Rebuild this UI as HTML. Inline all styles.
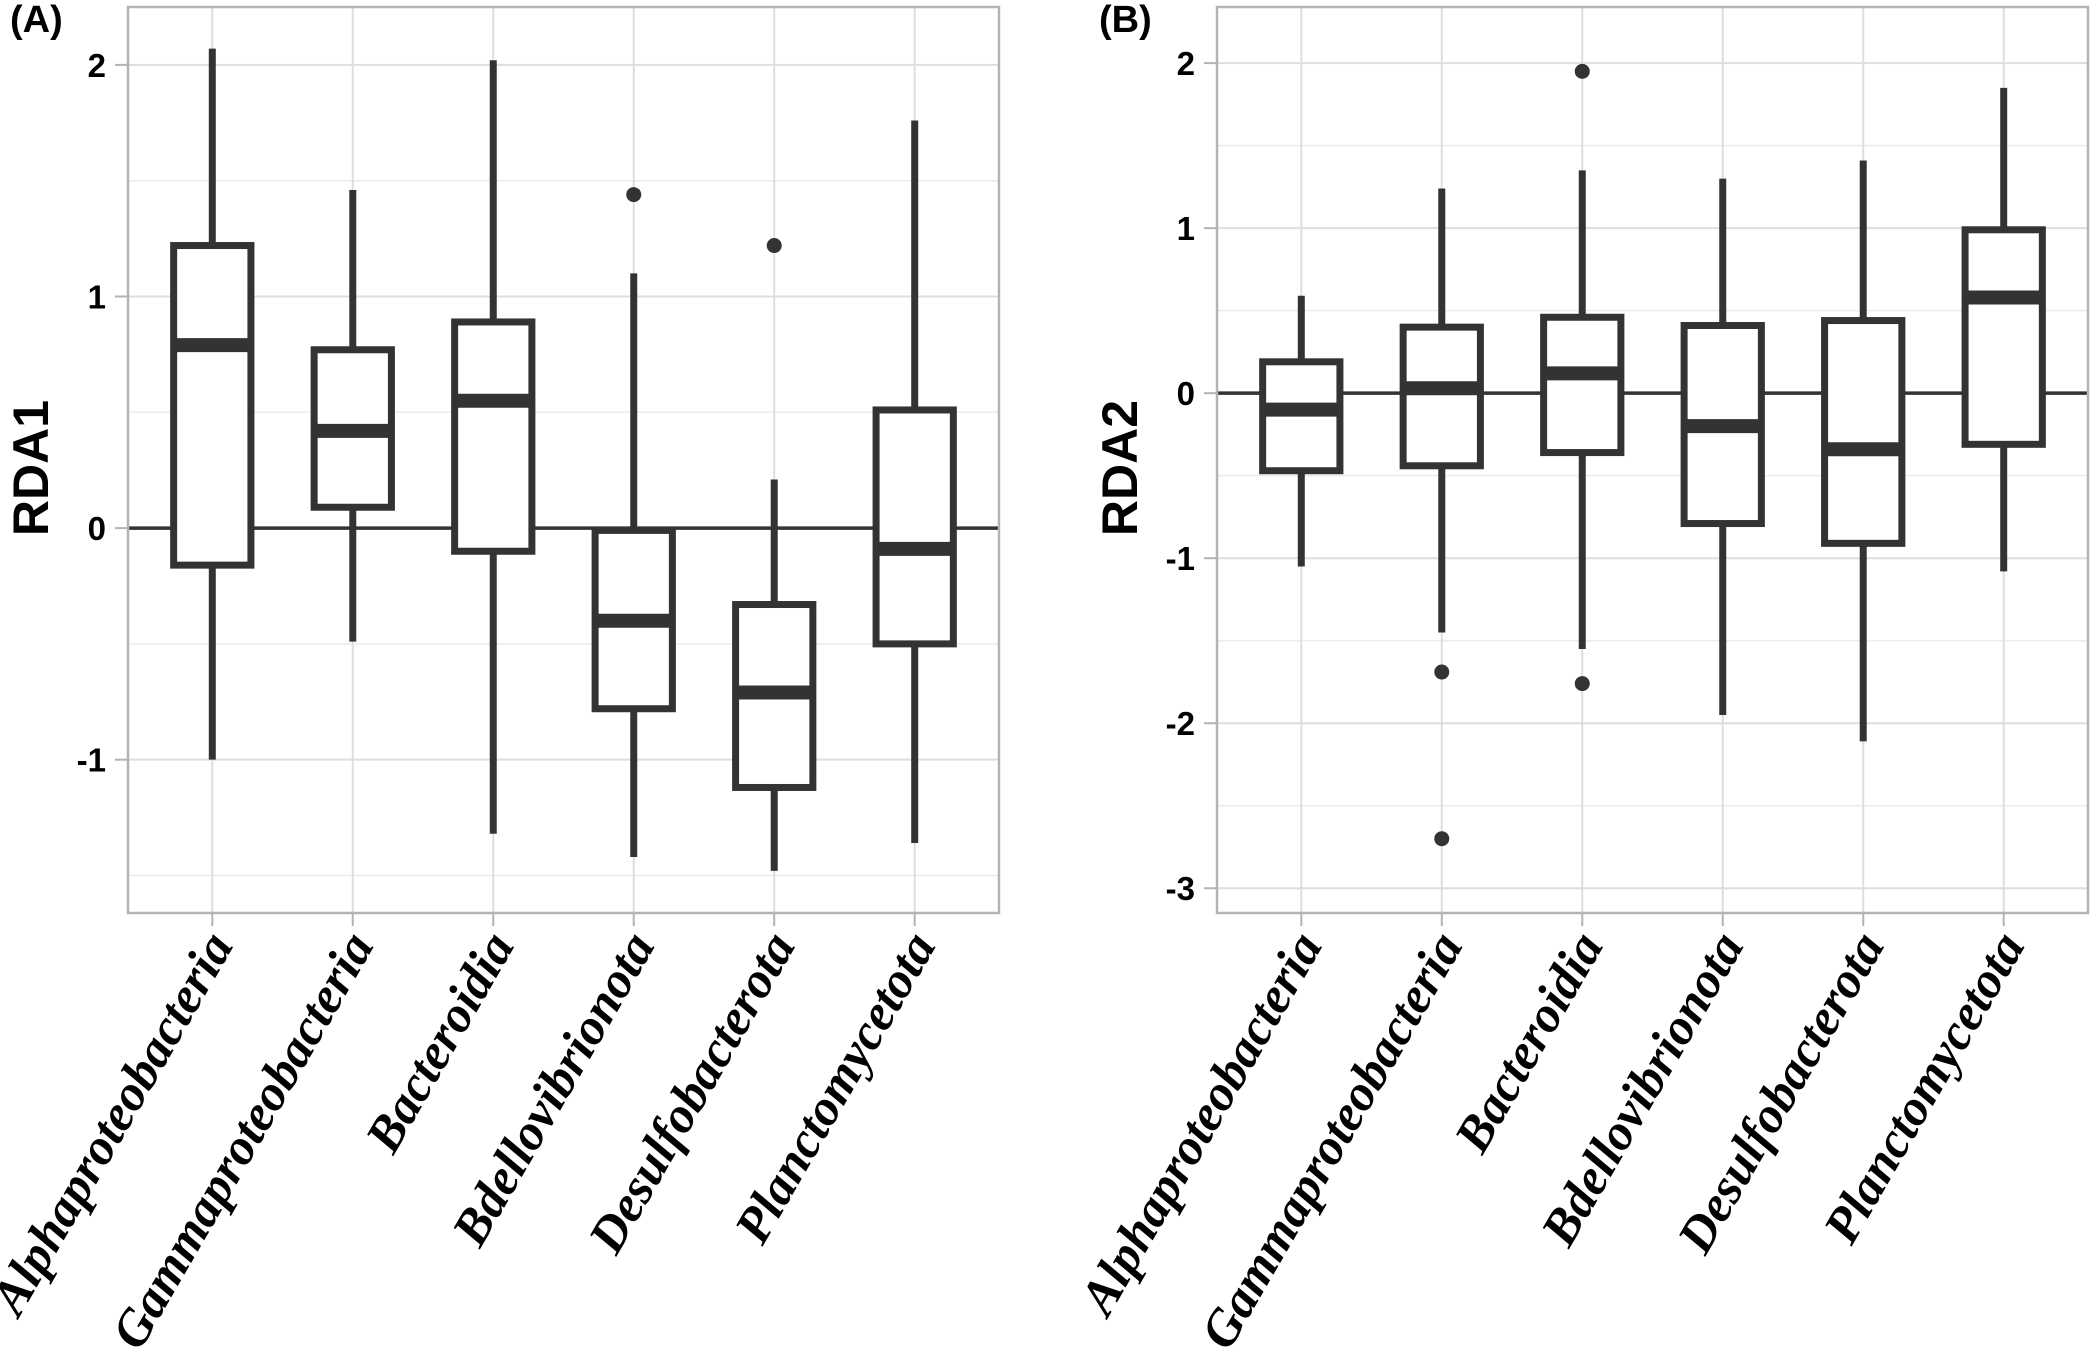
<!DOCTYPE html>
<html><head><meta charset="utf-8"><style>
html,body{margin:0;padding:0;background:#fff;}
svg{display:block;}
</style></head><body>
<svg id="chart" width="2090" height="1366" viewBox="0 0 2090 1366" xmlns="http://www.w3.org/2000/svg"></svg>
<script>
const categories = ["Alphaproteobacteria","Gammaproteobacteria","Bacteroidia","Bdellovibrionota","Desulfobacterota","Planctomycetota"];
// Panel A (RDA1)
const rda1Low = [-1.0, -0.49, -1.32, -1.42, -1.48, -1.36];
const rda1Q1 = [-0.16, 0.09, -0.10, -0.78, -1.12, -0.50];
const rda1Median = [0.79, 0.42, 0.55, -0.40, -0.71, -0.09];
const rda1Q3 = [1.22, 0.77, 0.89, -0.01, -0.33, 0.51];
const rda1High = [2.07, 1.46, 2.02, 1.10, 0.21, 1.76];
const rda1Outliers = [[], [], [], [1.44], [1.22], []];
const rda1Ticks = [2, 1, 0, -1];
const rda1Minor = [1.5, 0.5, -0.5, -1.5];
// Panel B (RDA2)
const rda2Low = [-1.05, -1.45, -1.55, -1.95, -2.11, -1.08];
const rda2Q1 = [-0.47, -0.44, -0.36, -0.79, -0.91, -0.31];
const rda2Median = [-0.10, 0.03, 0.12, -0.20, -0.34, 0.58];
const rda2Q3 = [0.19, 0.40, 0.46, 0.41, 0.44, 0.99];
const rda2High = [0.59, 1.24, 1.35, 1.30, 1.41, 1.85];
const rda2Outliers = [[], [-1.69, -2.70], [1.95, -1.76], [], [], []];
const rda2Ticks = [2, 1, 0, -1, -2, -3];
const rda2Minor = [1.5, 0.5, -0.5, -1.5, -2.5];

const NS = "http://www.w3.org/2000/svg";
const svg = document.getElementById("chart");
const DARK = "#333333";
function mk(tag, attrs, parent){
  const e = document.createElementNS(NS, tag);
  for (const k in attrs) e.setAttribute(k, attrs[k]);
  (parent||svg).appendChild(e);
  return e;
}

function panel(opt){
  const {left,right,top,bottom,yMin,yMax,low,q1,med,q3,high,outs,ticks,minor,title,tag,key} = opt;
  const g = mk("g", {});
  
  
  const n = categories.length;
  const step = (right-left)/(n+0.2);
  const xs = i => left + step*(0.6+i);
  const ys = v => top + (yMax - v)/(yMax - yMin)*(bottom-top);
  minor.forEach(v=>{
    const l = mk("line",{x1:left,x2:right,y1:ys(v),y2:ys(v),stroke:"#ebebeb","stroke-width":1.5},g);
    
    
  });
  ticks.forEach(v=>{
    const l = mk("line",{x1:left,x2:right,y1:ys(v),y2:ys(v),stroke:"#dedede","stroke-width":2},g);
    
    
    const t = mk("line",{x1:left-13,x2:left,y1:ys(v),y2:ys(v),stroke:"#b3b3b3","stroke-width":2},g);
    
    
    const tx = mk("text",{x:left-22,y:ys(v)+12,"text-anchor":"end","font-family":"Liberation Sans, sans-serif","font-weight":"bold","font-size":33,fill:"#000"},g);
    tx.textContent = String(v);
    
    
  });
  categories.forEach((c,i)=>{
    const l = mk("line",{x1:xs(i),x2:xs(i),y1:top,y2:bottom,stroke:"#dedede","stroke-width":2},g);
    
    
    const t = mk("line",{x1:xs(i),x2:xs(i),y1:bottom,y2:bottom+13,stroke:"#b3b3b3","stroke-width":2},g);
    
    
    const lx = xs(i)+22, ly = bottom+32;
    const tx = mk("text",{x:lx,y:ly,"text-anchor":"end","font-family":"Liberation Serif, serif","font-weight":"bold","font-style":"italic","font-size":51,fill:"#000",transform:`rotate(-60 ${lx} ${ly})`},g);
    tx.textContent = c;
    
    
  });
  const z = mk("line",{x1:left,x2:right,y1:ys(0),y2:ys(0),stroke:DARK,"stroke-width":3.5},g);
  
  
  const hw = step*0.275;
  categories.forEach((c,i)=>{
    const bg = mk("g",{},g);
    
    
    const w1 = mk("line",{x1:xs(i),x2:xs(i),y1:ys(high[i]),y2:ys(q3[i]),stroke:DARK,"stroke-width":7},bg);
    
    
    const w2 = mk("line",{x1:xs(i),x2:xs(i),y1:ys(q1[i]),y2:ys(low[i]),stroke:DARK,"stroke-width":7},bg);
    
    
    const r = mk("rect",{x:xs(i)-hw,y:ys(q3[i]),width:2*hw,height:ys(q1[i])-ys(q3[i]),fill:"#fff",stroke:DARK,"stroke-width":7},bg);
    
    
    const m = mk("line",{x1:xs(i)-hw,x2:xs(i)+hw,y1:ys(med[i]),y2:ys(med[i]),stroke:DARK,"stroke-width":14},bg);
    
    
    outs[i].forEach(v=>{
      const p = mk("circle",{cx:xs(i),cy:ys(v),r:7.5,fill:DARK},bg);
      
      
    });
  });
  const b = mk("rect",{x:left,y:top,width:right-left,height:bottom-top,fill:"none",stroke:"#b3b3b3","stroke-width":2.5},g);
  
  
  const ty = (top+bottom)/2;
  const tt = mk("text",{x:0,y:0,"text-anchor":"middle","font-family":"Liberation Sans, sans-serif","font-weight":"bold","font-size":50,fill:"#000",transform:`translate(${left-80} ${ty+8}) rotate(-90)`},g);
  tt.textContent = title;
  
  
  const pl = mk("text",{x:left-118,y:32,"font-family":"Liberation Sans, sans-serif","font-weight":"bold","font-size":38,fill:"#000"},g);
  pl.textContent = tag;
  
  
}

panel({left:128,right:999,top:7,bottom:913,yMin:-1.662,yMax:2.25,low:rda1Low,q1:rda1Q1,med:rda1Median,q3:rda1Q3,high:rda1High,outs:rda1Outliers,ticks:rda1Ticks,minor:rda1Minor,title:"RDA1",tag:"(A)",key:"rda1"});
panel({left:1217,right:2088,top:7,bottom:913,yMin:-3.15,yMax:2.34,low:rda2Low,q1:rda2Q1,med:rda2Median,q3:rda2Q3,high:rda2High,outs:rda2Outliers,ticks:rda2Ticks,minor:rda2Minor,title:"RDA2",tag:"(B)",key:"rda2"});
</script>
</body></html>
